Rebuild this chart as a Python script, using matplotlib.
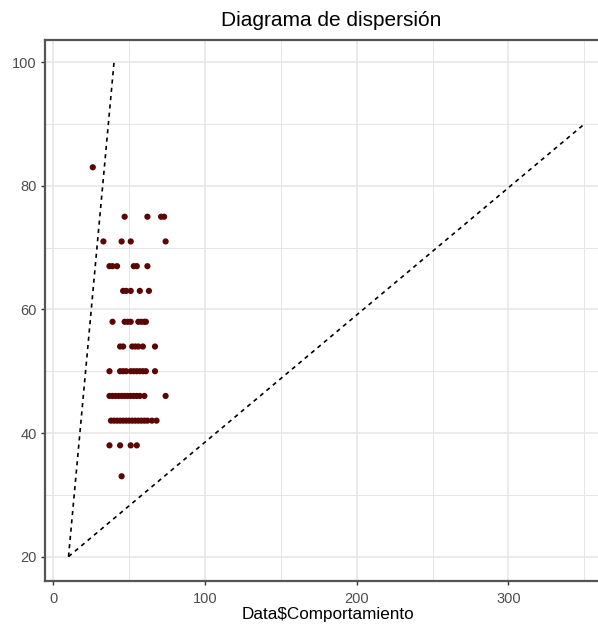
import matplotlib
matplotlib.use("Agg")
import matplotlib.pyplot as plt

# Data
comportamiento = [26,
                  47, 62, 71, 73,
                  33, 45, 51, 74,
                  37, 39, 42, 53, 55, 62,
                  46, 48, 51, 57, 63,
                  39, 47, 49, 51, 56, 58, 60, 61,
                  44, 46, 52, 54, 56, 59, 67,
                  37, 44, 46, 48, 51, 53, 55, 57, 59, 61, 67,
                  37, 39, 41, 43, 45, 47, 49, 51, 53, 55, 57, 60, 74,
                  38, 40, 42, 44, 46, 48, 50, 52, 54, 56, 58, 60, 62, 65, 68,
                  37, 44, 51, 55,
                  45]
puntaje = [83,
           75, 75, 75, 75,
           71, 71, 71, 71,
           67, 67, 67, 67, 67, 67,
           63, 63, 63, 63, 63,
           58, 58, 58, 58, 58, 58, 58, 58,
           54, 54, 54, 54, 54, 54, 54,
           50, 50, 50, 50, 50, 50, 50, 50, 50, 50, 50,
           46, 46, 46, 46, 46, 46, 46, 46, 46, 46, 46, 46, 46,
           42, 42, 42, 42, 42, 42, 42, 42, 42, 42, 42, 42, 42, 42, 42,
           38, 38, 38, 38,
           33]

line1_x = [10, 40]
line1_y = [20, 100]
line2_x = [10, 350]
line2_y = [20, 90]

x_ticks = [0, 100, 200, 300]
y_ticks = [20, 40, 60, 80, 100]

plt.rcParams['font.family'] = ['Liberation Sans', 'DejaVu Sans']

fig = plt.figure(figsize=(5.98, 6.26), dpi=100)
ax = fig.add_axes([45/598, 1 - 580.7/626, 1 - 45/598, (580.7 - 40)/626])

ax.set_xlim(-5.5, 359)
ax.set_ylim(16.1, 103.6)

# grid
for v in [0, 50, 100, 150, 200, 250, 300, 350]:
    ax.axvline(v, color='#e6e6e6', lw=1.1 if v % 100 == 0 else 0.7, zorder=0)
for v in [20, 30, 40, 50, 60, 70, 80, 90, 100]:
    ax.axhline(v, color='#e6e6e6', lw=1.1 if v % 20 == 0 else 0.7, zorder=0)

ax.plot(line1_x, line1_y, color='black', lw=1.2, ls=(0, (2.5, 2.5)), zorder=2)
ax.plot(line2_x, line2_y, color='black', lw=1.2, ls=(0, (2.5, 2.5)), zorder=2)

ax.scatter(comportamiento, puntaje, s=20, color='#5c0505', edgecolors='none', zorder=3)

ax.set_xticks(x_ticks)
ax.set_yticks(y_ticks)
ax.tick_params(axis='both', colors='#333333', labelcolor='#4d4d4d', labelsize=10.5,
               length=3, width=1.0)
ax.tick_params(axis='x', pad=5)
ax.tick_params(axis='y', pad=3)

for s in ['left', 'bottom', 'top']:
    ax.spines[s].set_color('#555555')
    ax.spines[s].set_linewidth(1.6)
ax.spines['right'].set_visible(False)

fig.text(331/598, 1 - 20/626, 'Diagrama de dispersión', ha='center', va='center',
         fontsize=15, color='black')
fig.text(328/598, 1 - 615/626, 'Data$Comportamiento', ha='center', va='center',
         fontsize=12.3, color='black')

fig.savefig('out.png', dpi=100)
